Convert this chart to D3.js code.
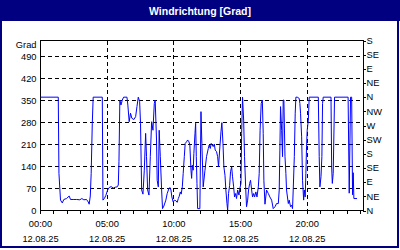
<!DOCTYPE html>
<html><head><meta charset="utf-8">
<script src="https://cdn.jsdelivr.net/npm/d3@7"></script>
<style>html,body{margin:0;padding:0;background:#fff;} svg{display:block;}</style>
</head><body>
<svg id="c" width="400" height="250"></svg>
<script>
const title = "Windrichtung [Grad]";
const yUnit = "Grad";
const leftTicks = [0, 70, 140, 210, 280, 350, 420, 490];
const rightTickValues = [0, 45, 90, 135, 180, 225, 270, 315, 360, 405, 450, 495, 540];
const rightTickLabels = ["N", "NE", "E", "SE", "S", "SW", "W", "NW", "N", "NE", "E", "SE", "S"];
const hourTicks = d3.range(0, 25);
const labelHours = [0, 5, 10, 15, 20];
const timeLabels = ["00:00", "05:00", "10:00", "15:00", "20:00"];
const dateLabel = "12.08.25";

// time of day in minutes, wind direction in degrees
const minutes = [0,80,83,90,98,105,117,129,135,147,162,177,186,195,207,215,219,224,228,233,237,278,281,288,294,302,309,318,327,336,345,350,353,357,362,368,374,389,393,399,405,411,420,428,434,440,446,450,455,461,467,473,477,482,488,494,500,506,512,516,522,525,530,534,539,545,549,
555,564,570,578,582,587,591,597,603,609,615,620,624,629,633,638,642,647,651,657,662,668,672,677,680,683,687,690,695,698,701,704,707,717,722,726,732,740,747,755,759,764,768,773,777,782,786,792,797,801,807,812,816,821,825,830,834,839,842,846,851,855,860,864,869,873,878,882,887,893,897,902,905,909,914,918,923,927,932,936,941,945,950,954,959,963,969,974,980,984,988,993,998,1002,1005,1010,
1017,1025,1032,1040,1047,1055,1062,1070,1074,1077,1080,1085,1089,1092,1095,1100,1104,1107,1115,1119,1125,1130,1134,1137,1142,1146,1149,1155,1164,1167,1170,1175,1179,1184,1187,1191,1194,1197,1200,1205,1209,1250,1254,1257,1262,1266,1269,1272,1307,1310,1313,1317,1323,1384,1389,1395,1400,1404,1407,1410,1424];
const degrees = [360,360,118,33,24,35,38,46,35,35,35,34,38,34,35,27,20,46,118,277,360,360,33,39,48,65,73,76,71,74,75,81,155,351,335,351,360,360,335,282,309,293,289,298,330,360,346,277,65,52,128,245,171,65,49,171,282,255,340,351,224,96,75,255,171,65,6,
14,33,54,70,73,65,43,27,33,31,26,38,45,59,52,75,118,171,213,218,224,218,208,128,102,144,128,181,245,277,171,86,6,6,314,213,75,128,171,197,208,197,213,208,203,211,192,187,171,139,202,250,279,213,139,112,65,22,1,54,80,123,139,107,75,43,54,38,65,49,70,86,245,360,287,171,75,12,33,65,86,96,65,43,54,43,59,43,75,118,255,340,351,245,96,20,
65,54,43,33,6,12,22,22,65,192,330,255,171,351,351,171,118,65,22,33,12,17,6,65,171,309,360,360,356,340,309,234,96,33,65,43,118,202,255,287,360,360,171,75,107,171,340,360,360,139,86,118,360,360,55,360,360,50,120,38,38];

const W = 400, H = 250;
const plot = {left: 40.5, right: 363, top: 40.5, bottom: 210.5};
const svg = d3.select("#c");
const font = "'Liberation Sans', Arial, sans-serif";

svg.append("rect").attr("width", W).attr("height", H).attr("fill", "#fff");

const x = d3.scaleLinear().domain([0, 1451]).range([plot.left, plot.right]);
const y = d3.scaleLinear().domain([0, 540]).range([plot.bottom, plot.top]);

// title bar
svg.append("rect").attr("x", 0).attr("y", 0).attr("width", W).attr("height", 21).attr("fill", "#000080");
svg.append("text").attr("x", 200).attr("y", 14.5).attr("text-anchor", "middle")
  .attr("font-family", font).attr("font-weight", "bold").attr("font-size", 10.5)
  .attr("fill", "#fff").text(title);

// outer frame
svg.append("rect").attr("x", 1).attr("y", 1).attr("width", 397).attr("height", 246)
  .attr("fill", "none").attr("stroke", "#000080").attr("stroke-width", 2);

// grid
const g = svg.append("g").attr("shape-rendering", "crispEdges");
g.selectAll("line.hg").data(leftTicks.filter(v => v > 0)).join("line")
  .attr("x1", plot.left).attr("x2", plot.right)
  .attr("y1", d => y(d)).attr("y2", d => y(d))
  .attr("stroke", "#000").attr("stroke-dasharray", "4,3");
g.selectAll("line.vg").data(labelHours.filter(h => h > 0)).join("line")
  .attr("x1", d => x(d * 60)).attr("x2", d => x(d * 60))
  .attr("y1", plot.top).attr("y2", plot.bottom)
  .attr("stroke", "#000").attr("stroke-dasharray", "4,3");

// data line
const pts = minutes.map((m, i) => ({m, v: degrees[i]}));
svg.append("path").datum(pts)
  .attr("d", d3.line().x(d => x(d.m)).y(d => y(d.v)))
  .attr("fill", "none").attr("stroke", "#0000ff").attr("stroke-width", 1);

// frame
g.append("rect").attr("x", plot.left).attr("y", plot.top)
  .attr("width", plot.right - plot.left).attr("height", plot.bottom - plot.top)
  .attr("fill", "none").attr("stroke", "#000");

// left axis labels
const lab = svg.append("g").attr("font-family", font).attr("font-size", 9.3).attr("fill", "#000");
lab.selectAll("text.l").data(leftTicks).join("text")
  .attr("x", 36.5).attr("y", d => y(d) + 3.3).attr("text-anchor", "end").text(d => d);
lab.append("text").attr("x", 36.5).attr("y", 48).attr("text-anchor", "end").text(yUnit);

// right axis
g.selectAll("line.rt").data(rightTickValues).join("line")
  .attr("x1", plot.right).attr("x2", plot.right + 3)
  .attr("y1", d => Math.round(y(d)) + 0.5).attr("y2", d => Math.round(y(d)) + 0.5)
  .attr("stroke", "#000");
lab.selectAll("text.r").data(rightTickValues).join("text")
  .attr("x", 366.5).attr("y", d => y(d) + 3.3).attr("text-anchor", "start")
  .text((d, i) => rightTickLabels[i]);

// bottom axis ticks
g.selectAll("line.bt").data(hourTicks).join("line")
  .attr("x1", d => x(d * 60)).attr("x2", d => x(d * 60))
  .attr("y1", plot.bottom).attr("y2", plot.bottom + 3)
  .attr("stroke", "#000");
lab.selectAll("text.t").data(labelHours).join("text")
  .attr("x", d => x(d * 60)).attr("y", 227).attr("text-anchor", "middle")
  .text((d, i) => timeLabels[i]);
lab.selectAll("text.d").data(labelHours).join("text")
  .attr("x", d => x(d * 60)).attr("y", 242).attr("text-anchor", "middle")
  .text(dateLabel);
</script>
</body></html>
